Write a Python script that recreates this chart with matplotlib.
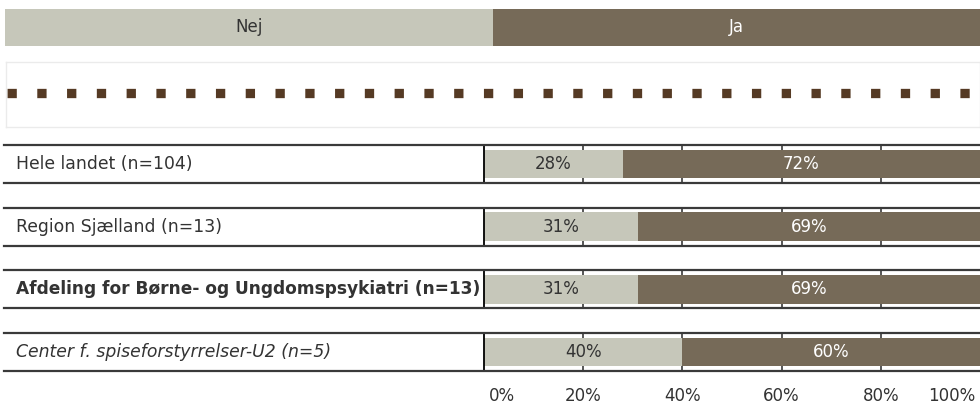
import matplotlib
matplotlib.use("Agg")
import matplotlib.pyplot as plt
import matplotlib.transforms as mtransforms
from matplotlib.patches import Rectangle
from matplotlib.lines import Line2D

# ---------------- data ----------------
categories = [
    "Hele landet (n=104)",
    "Region Sjælland (n=13)",
    "Afdeling for Børne- og Ungdomspsykiatri (n=13)",
    "Center f. spiseforstyrrelser-U2 (n=5)",
]
nej = [28, 31, 31, 40]
ja = [72, 69, 69, 60]
series_names = ["Nej", "Ja"]
xticks = [0, 20, 40, 60, 80, 100]
xtick_labels = ["0%", "20%", "40%", "60%", "80%", "100%"]

# ---------------- style ----------------
LIGHT = "#C6C7BA"
DARK = "#766A58"
DOT = "#553A24"
LINE = "#3A3A3A"
TXT = "#333333"
FS = 12
label_sizes = [12.4, 12.4, 12.25, 12.4]
label_weights = ["normal", "normal", "bold", "normal"]
label_styles = ["normal", "normal", "normal", "italic"]

plt.rcParams["font.family"] = ["DejaVu Sans"]

W, H = 980, 403
fig = plt.figure(figsize=(W / 100, H / 100), dpi=100)


def fx(px):
    return px / W


def fy(py):
    return 1 - py / H


# ---------------- legend strip ----------------
lax = fig.add_axes([fx(5), fy(46), fx(980) - fx(5), (46 - 9) / H])
lax.set_xlim(0, 1)
lax.set_ylim(0, 1)
lax.axis("off")
lax.add_patch(Rectangle((0, 0), 0.5, 1, color=LIGHT, lw=0))
lax.add_patch(Rectangle((0.5, 0), 0.5, 1, color=DARK, lw=0))
lax.text(0.25, 0.5, series_names[0], ha="center", va="center", fontsize=FS, color=TXT)
lax.text(0.75, 0.5, series_names[1], ha="center", va="center", fontsize=FS, color="white")

# ---------------- dotted box ----------------
dax = fig.add_axes([fx(6), fy(127), fx(980) - fx(6), (127 - 62) / H])
dax.set_xlim(0, 1)
dax.set_ylim(0, 1)
dax.set_xticks([])
dax.set_yticks([])
for s in dax.spines.values():
    s.set_color("#EBEBEB")
    s.set_linewidth(1)
dax.plot([1 / 974, 1], [0.52, 0.52], color=DOT, lw=6.7, dashes=(1, 2.2),
         solid_capstyle="butt", dash_capstyle="butt")

# ---------------- bar axes ----------------
top_px, bot_px = 132.6, 383.4
ax = fig.add_axes([fx(484), fy(bot_px), fx(980) - fx(484), (bot_px - top_px) / H])
ax.set_xlim(0, 100)
ax.set_ylim(len(categories) - 0.5, -0.5)
for s in ax.spines.values():
    s.set_visible(False)
ax.set_yticks([])
ax.set_xticks(xticks)
ax.set_xticklabels(xtick_labels, fontsize=FS, color=TXT)
ax.tick_params(axis="x", length=0, pad=2.5)
tl = ax.get_xticklabels()
tl[0].set_ha("left")
tl[0].set_transform(tl[0].get_transform() + mtransforms.ScaledTranslation(5 / 100, 0, fig.dpi_scale_trans))
tl[-1].set_ha("right")
tl[-1].set_transform(tl[-1].get_transform() + mtransforms.ScaledTranslation(-5 / 100, 0, fig.dpi_scale_trans))

ypos = list(range(len(categories)))
bh = 0.46
half = 0.303
ax.barh(ypos, nej, height=bh, color=LIGHT, zorder=3)
ax.barh(ypos, ja, left=nej, height=bh, color=DARK, zorder=3)

for i in ypos:
    ax.text(nej[i] / 2, i, f"{nej[i]}%", ha="center", va="center", fontsize=FS, color=TXT, zorder=4)
    ax.text(nej[i] + ja[i] / 2, i, f"{ja[i]}%", ha="center", va="center", fontsize=FS, color="white", zorder=4)
    ax.vlines(xticks[1:-1], i - half, i + half, color=LINE, lw=1.2, zorder=1)
    ax.vlines(0, i - half, i + half, color="black", lw=1.3, zorder=5, clip_on=False)

# row box lines and labels (figure x, data y)
trans = mtransforms.blended_transform_factory(fig.transFigure, ax.transData)
for i, cat in enumerate(categories):
    for yy in (i - half, i + half):
        fig.add_artist(Line2D([fx(4), 1], [yy, yy], transform=trans, color=LINE, lw=1.6, zorder=5))
    fig.text(fx(16), i, cat, transform=trans, ha="left", va="center", fontsize=label_sizes[i],
             fontweight=label_weights[i], fontstyle=label_styles[i], color=TXT)

fig.savefig("out.png", dpi=100)
